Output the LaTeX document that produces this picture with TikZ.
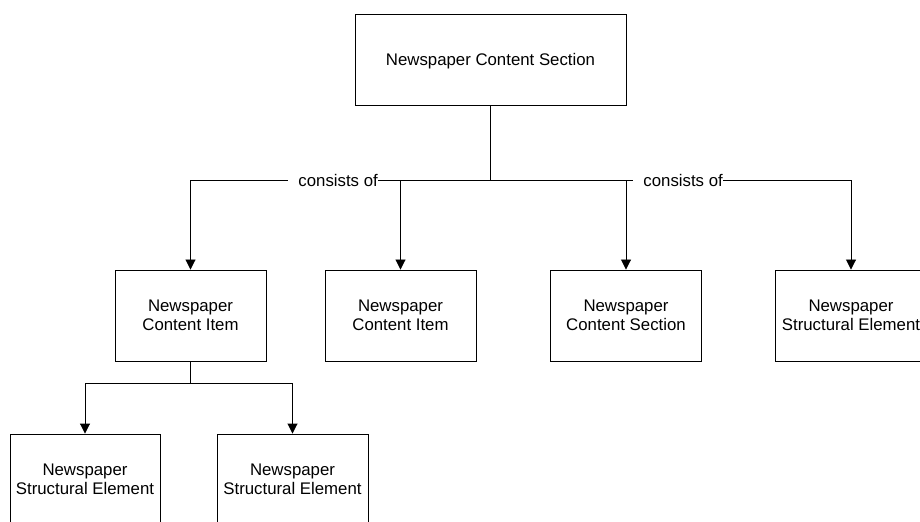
\documentclass[tikz,border=0pt]{standalone}
\usepackage{fontspec}
\setmainfont{Liberation Sans}
\usetikzlibrary{arrows.meta}
\begin{document}
\begin{tikzpicture}[x=1bp,y=-1bp,
  box/.style={draw=black, line width=0.9bp, minimum width=151bp, minimum height=91bp,
    inner sep=0pt, text depth=0pt, align=center, font=\fontsize{16.8bp}{19.3bp}\selectfont},
  conn/.style={draw=black, line width=0.9bp},
  arr/.style={conn, -{Triangle[width=10bp,length=10bp]}},
  lbl/.style={fill=white, inner xsep=0pt, inner ysep=2bp, font=\fontsize{16.8bp}{19.3bp}\selectfont}]
\useasboundingbox (0,0) rectangle (920,522);
\clip (0,0) rectangle (920,522);
\fill[white] (0,0) rectangle (920,522);
% nodes
\node[box, minimum width=271bp] (top) at (490.5,59.5) {Newspaper Content Section};
\node[box] (b1) at (190.5,315.5) {Newspaper\\Content Item};
\node[box] (b2) at (400.5,315.5) {Newspaper\\Content Item};
\node[box] (b3) at (626,315.5) {Newspaper\\Content Section};
\node[box] (b4) at (851,315.5) {Newspaper\\Structural Element};
\node[box, minimum width=150bp] (c1) at (85,479.5) {Newspaper\\Structural Element};
\node[box] (c2) at (292.5,479.5) {Newspaper\\Structural Element};
\coordinate (j1) at (490.5,180);
\coordinate (j2) at (190.5,383);
% connectors
\draw[conn] (top.south) -- (j1);
\draw[arr] (j1) -| (b1.north);
\draw[arr] (j1) -| (b2.north);
\draw[arr] (j1) -| (b3.north);
\draw[arr] (j1) -| (b4.north);
\draw[conn] (b1.south) -- (j2);
\draw[arr] (j2) -| (c1.north);
\draw[arr] (j2) -| (c2.north);
% labels
\node[lbl, anchor=east] (lab1) at (378,180) {\hspace{10bp}consists of};
\node[lbl, anchor=east] (lab2) at (723,180) {\hspace{10bp}consists of};
\end{tikzpicture}
\end{document}
